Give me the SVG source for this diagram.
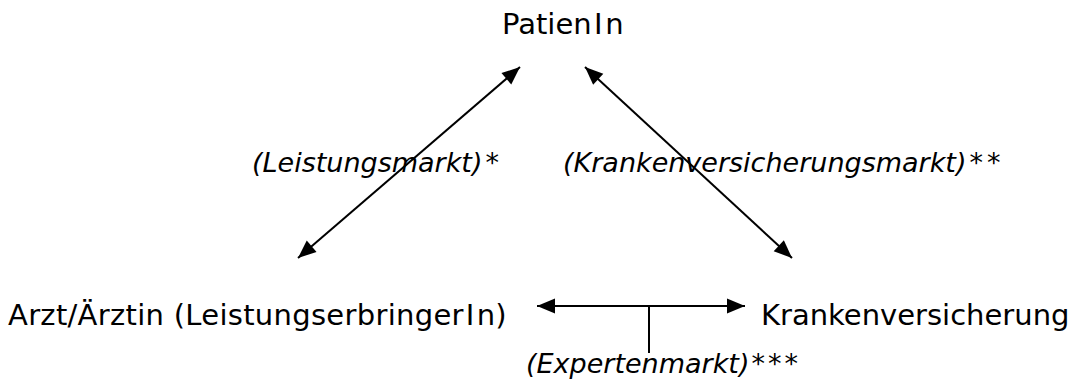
<svg xmlns="http://www.w3.org/2000/svg" width="1077" height="381" viewBox="0 0 1077 381">
<style>
.node{font-family:"DejaVu Sans","Verdana",sans-serif;font-size:29px;fill:#000}
.lbl{font-family:"DejaVu Sans","Verdana",sans-serif;font-size:27px;font-style:italic;fill:#000}
.con{stroke:#000;stroke-width:2;fill:none}
</style>
<defs>
<marker id="ah" viewBox="-19 -9 20 18" markerWidth="20" markerHeight="18" refX="0" refY="0" markerUnits="userSpaceOnUse" orient="auto-start-reverse">
<path d="M0,0 L-18,-7.5 L-18,7.5 Z" fill="#000"/>
</marker>
</defs>
<rect width="1077" height="381" fill="#fff"/>
<g id="connectors">
<line class="con" x1="298" y1="258" x2="520" y2="67" marker-start="url(#ah)" marker-end="url(#ah)"/>
<line class="con" x1="585" y1="67" x2="792" y2="258" marker-start="url(#ah)" marker-end="url(#ah)"/>
<line class="con" x1="537" y1="306" x2="745" y2="306" marker-start="url(#ah)" marker-end="url(#ah)"/>
<line class="con" x1="649" y1="306" x2="649" y2="353" stroke-width="1.5"/>
</g>
<g id="patient"><text class="node" x="502" y="34">Patien<tspan dx="2.5">I</tspan><tspan dx="2.5">n</tspan></text></g>
<g id="arzt"><text class="node" x="8" y="325" letter-spacing="0.3">Arzt/Ärztin (Leistungserbringer<tspan dx="2">I</tspan><tspan dx="2">n)</tspan></text></g>
<g id="kasse"><text class="node" x="761" y="325">Krankenversicherung</text></g>
<g id="label-leistung"><text class="lbl" x="252" y="172">(Leistungsmarkt)<tspan dx="3">*</tspan></text></g>
<g id="label-kv"><text class="lbl" x="563" y="172">(Krankenversicherungsmarkt)<tspan dx="3" letter-spacing="4">**</tspan></text></g>
<g id="label-experten"><text class="lbl" x="526" y="373">(Expertenmarkt)<tspan dx="2" letter-spacing="3">***</tspan></text></g>
</svg>
